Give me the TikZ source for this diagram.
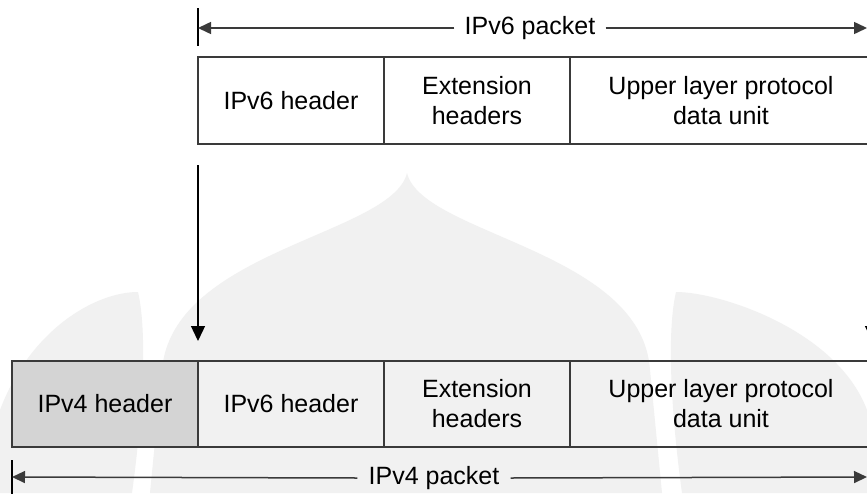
\documentclass[tikz,border=0pt]{standalone}
\usepackage{fontspec}
\setmainfont{Liberation Sans}
\usetikzlibrary{arrows.meta}

\definecolor{wmark}{HTML}{F1F1F1}
\definecolor{hdrgray}{HTML}{D4D4D4}
\definecolor{lineg}{HTML}{3A3A3A}

\tikzset{
  field/.style={draw=lineg, line width=1.5pt, minimum height=87pt,
    inner sep=0pt, align=center, text=black,
    font=\fontsize{25}{30}\selectfont},
  dimline/.style={draw=lineg, line width=1.5pt},
  dimtip/.style={-{Triangle[length=13pt,width=12pt]}},
  tick/.style={draw=black, line width=1.3pt},
  dimlabel/.style={inner sep=0pt, font=\fontsize{25}{30}\selectfont},
  moveto/.style={draw=black, line width=1.3pt,
    -{Triangle[length=15pt,width=14pt]}}
}

\begin{document}
\begin{tikzpicture}[x=1pt,y=-1pt]
\useasboundingbox (0,0) rectangle (867,493);
\clip (0,0) rectangle (867,493);
\fill[white] (0,0) rectangle (867,493);

% faint emblem in the background
\fill[wmark] (407,173) .. controls (392,235) and (172,250) .. (162,370)
  -- (150,493) -- (662,493) -- (650,370)
  .. controls (642,250) and (422,235) .. (407,173) -- cycle;
\fill[wmark] (0,410) .. controls (30,330) and (95,292) .. (138,292)
  .. controls (148,335) and (142,420) .. (132,493) -- (0,493) -- cycle;
\fill[wmark] (867,410) .. controls (837,330) and (720,292) .. (676,292)
  .. controls (666,335) and (672,420) .. (682,493) -- (867,493) -- cycle;

% IPv6 packet
\node[field, minimum width=186pt] (v6h)  at (291,100.5) {IPv6 header};
\node[field, minimum width=186pt] (ext)  at (477,100.5) {Extension\\headers};
\node[field, minimum width=302pt] (upl)  at (721,100.5) {Upper layer protocol\\data unit};

% IPv4 packet carrying the IPv6 packet
\node[field, minimum width=186pt, minimum height=86pt, fill=hdrgray] (v4h)  at (105,404) {IPv4 header};
\node[field, minimum width=186pt, minimum height=86pt] (v6hb) at (291,404) {IPv6 header};
\node[field, minimum width=186pt, minimum height=86pt] (extb) at (477,404) {Extension\\headers};
\node[field, minimum width=302pt, minimum height=86pt] (uplb) at (721,404) {Upper layer protocol\\data unit};

% IPv6 packet extent
\coordinate (t6a) at (198,8);
\coordinate (t6b) at (198,46);
\coordinate (d6L) at (198,28);
\coordinate (d6R) at (867,28);
\node[dimlabel] (l6) at (530,28) {IPv6 packet};
\draw[tick] (t6a) -- (t6b);
\draw[dimline, dimtip] ([xshift=-10pt]l6.west) -- (d6L);
\draw[dimline, dimtip] ([xshift=10pt]l6.east) -- (d6R);

% IPv4 packet extent
\coordinate (t4a) at (12,460);
\coordinate (t4b) at (12,500);
\coordinate (d4L) at (12,477);
\coordinate (d4R) at (867,477);
\node[dimlabel] (l4) at (434,478) {IPv4 packet};
\draw[tick] (t4a) -- (t4b);
\draw[dimline, dimtip] ([xshift=-11pt]l4.west) -- (d4L);
\draw[dimline, dimtip] ([xshift=11pt]l4.east) -- (d4R);

% encapsulation arrows
\coordinate (sL) at (198,165);
\coordinate (eL) at (198,341);
\coordinate (sR) at (872,165);
\coordinate (eR) at (872,341);
\draw[moveto] (sL) -- (eL);
\draw[moveto] (sR) -- (eR);
\end{tikzpicture}
\end{document}
